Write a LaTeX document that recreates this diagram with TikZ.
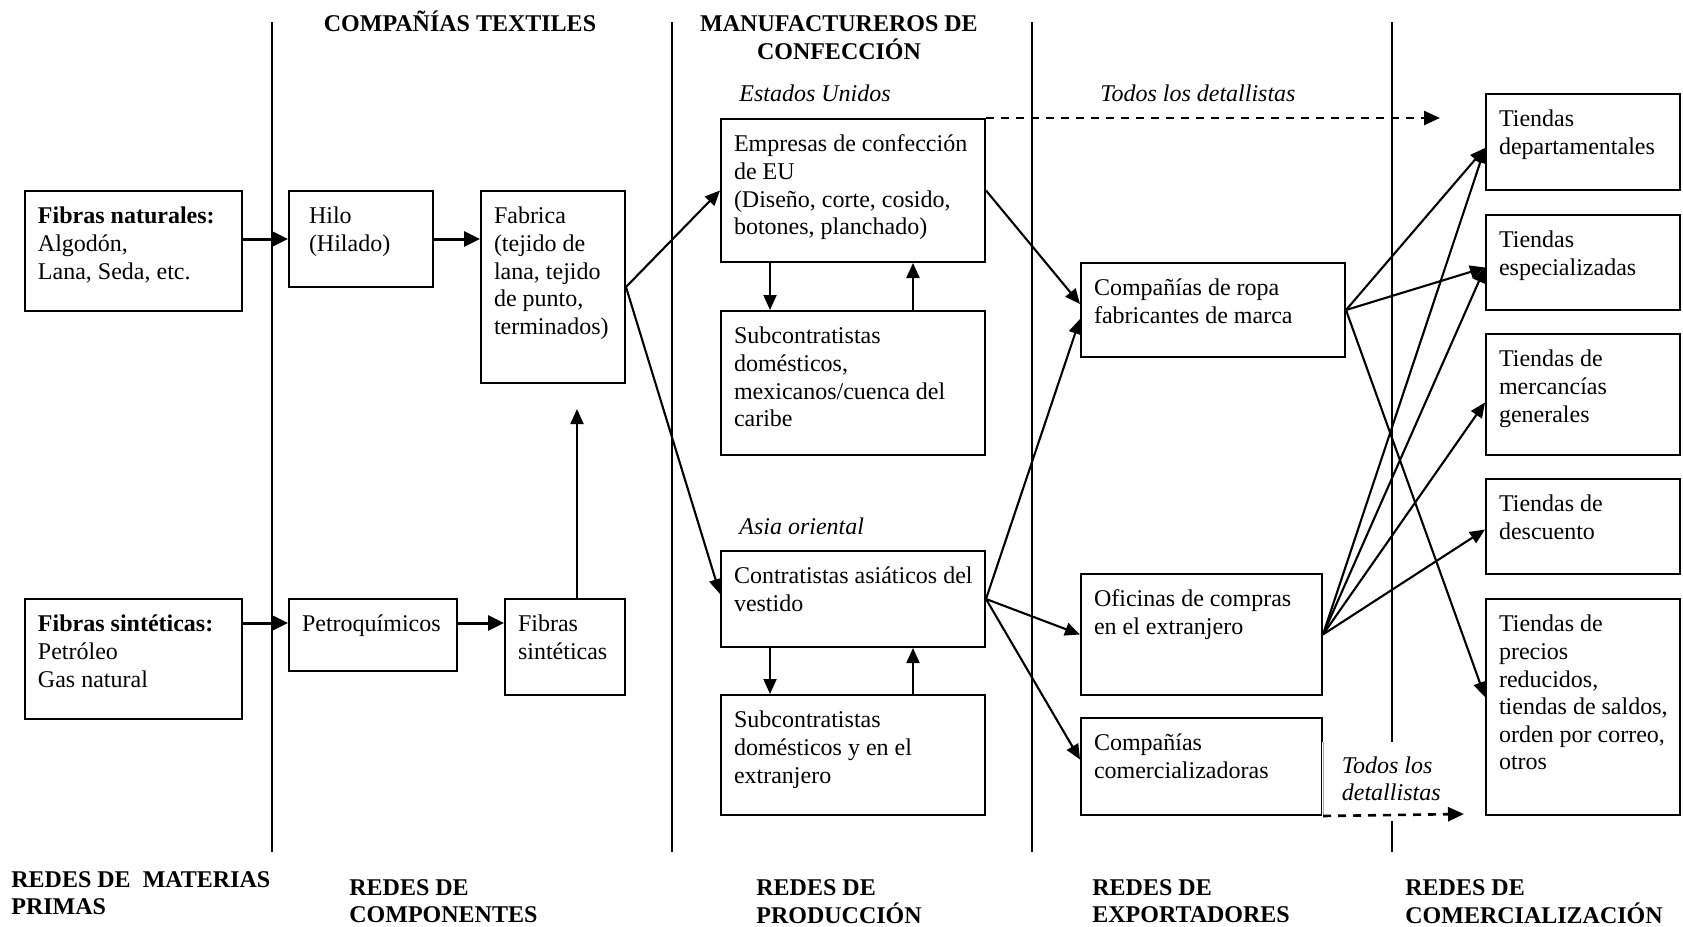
\documentclass[tikz,border=0pt]{standalone}
\usepackage{fontspec}
\setmainfont{Liberation Serif}
\usetikzlibrary{arrows.meta}
\newcommand\bx[6][]{\node[box,#1] (#2) at (#3) {\parbox[c][\dimexpr #5pt/2-13.6pt\relax][t]{\dimexpr #4pt/2-13pt\relax}{\begin{tabular}[t]{@{}l@{}}#6\end{tabular}}};}
\begin{document}
\begin{tikzpicture}[x=0.5pt,y=-0.5pt,
  every node/.style={font=\fontsize{12pt}{13.8pt}\selectfont, inner sep=0pt},
  box/.style={draw, line width=1pt, anchor=north west, inner xsep=6.5pt, inner ysep=6.8pt},
  txt/.style={anchor=base west},
  arr/.style={line width=1.05pt, -{Triangle[length=7.5pt,width=6.5pt]}},
  thk/.style={line width=1.5pt, -{Triangle[length=8pt,width=7.5pt]}},
  dsh/.style={line width=1.3pt, dash pattern=on 4pt off 3.5pt, -{Triangle[length=8pt,width=7pt]}},
  divider/.style={line width=0.9pt}]
\useasboundingbox (0,0) rectangle (1683,927);

% dividers
\foreach \x in {272,672,1032,1392} \draw[divider] (\x,22) -- (\x,852);

% headers
\node[anchor=base] (h1) at (460,31) {\bfseries COMPAÑÍAS TEXTILES};
\node[anchor=base] (h2) at (839,31) {\begin{tabular}[t]{@{}c@{}}\bfseries MANUFACTUREROS DE\\\bfseries CONFECCIÓN\end{tabular}};

% bottom labels
\node[txt] (b1) at (11,887) {\begin{tabular}[t]{@{}l@{}}\bfseries REDES DE\ \ MATERIAS\\\bfseries PRIMAS\end{tabular}};
\node[txt] (b2) at (349,895) {\begin{tabular}[t]{@{}l@{}}\bfseries REDES DE\\\bfseries COMPONENTES\end{tabular}};
\node[txt] (b3) at (756,895) {\begin{tabular}[t]{@{}l@{}}\bfseries REDES DE\\\bfseries PRODUCCIÓN\end{tabular}};
\node[txt] (b4) at (1092,895) {\begin{tabular}[t]{@{}l@{}}\bfseries REDES DE\\\bfseries EXPORTADORES\end{tabular}};
\node[txt] (b5) at (1405,895) {\begin{tabular}[t]{@{}l@{}}\bfseries REDES DE\\\bfseries COMERCIALIZACIÓN\end{tabular}};

% italic labels
\node[txt] (lus) at (739,101) {\itshape Estados Unidos};
\node[txt] (ltd) at (1100,101) {\itshape Todos los detallistas};
\node[txt] (las) at (739,534) {\itshape Asia oriental};

% boxes
\bx{fn}{24,190}{217}{120}{\textbf{Fibras naturales:}\\Algodón,\\Lana, Seda, etc.}
\bx{hilo}{288,190}{144}{96}{\hspace*{3.5pt}Hilo\\\hspace*{3.5pt}(Hilado)}
\bx{fab}{480,190}{144}{192}{Fabrica\\(tejido de\\lana, tejido\\de punto,\\terminados)}
\bx{fs}{24,598}{217}{120}{\textbf{Fibras sintéticas:}\\Petróleo\\Gas natural}
\bx{petro}{288,598}{168}{72}{Petroquímicos}
\bx{fsin}{504,598}{120}{96}{Fibras\\sintéticas}
\bx{emp}{720,118}{264}{143}{Empresas de confección\\de EU\\(Diseño, corte, cosido,\\botones, planchado)}
\bx{subA}{720,310}{264}{144}{Subcontratistas\\domésticos,\\mexicanos/cuenca del\\caribe}
\bx{cont}{720,550}{264}{96}{Contratistas asiáticos del\\vestido}
\bx{subB}{720,694}{264}{120}{Subcontratistas\\domésticos y en el\\extranjero}
\bx{ropa}{1080,262}{264}{94}{Compañías de ropa\\fabricantes de marca}
\bx{ofi}{1080,573}{241}{121}{Oficinas de compras\\en el extranjero}
\bx{com}{1080,717}{241}{97}{Compañías\\comercializadoras}
\bx{dep}{1485,93}{194}{96}{Tiendas\\departamentales}
\bx{esp}{1485,214}{194}{95}{Tiendas\\especializadas}
\bx{mer}{1485,333}{194}{121}{Tiendas de\\mercancías\\generales}
\bx{des}{1485,478}{194}{95}{Tiendas de\\descuento}
\bx{pre}{1485,598}{194}{216}{Tiendas de\\precios\\reducidos,\\tiendas de saldos,\\orden por correo,\\otros}

% bottom "Todos los detallistas" label with white background
\node[fill=white, anchor=north west, inner xsep=10pt, inner ysep=5.8pt] (ltdb) at (1321.5,742) {\begin{tabular}[t]{@{}l@{}}\itshape Todos los\\\itshape detallistas\end{tabular}};
\draw[line width=0.4pt, black!35] (com.east |- ltdb.north) -- (com.south east);

% connectors: raw materials / components
\draw[thk] (hilo.west -| fn.east) -- (hilo.west);
\draw[thk] (hilo.east) -- (hilo.east -| fab.west);
\coordinate (pA) at ([yshift=6pt]petro.west);
\coordinate (pB) at ([yshift=6pt]petro.east);
\draw[thk] (pA -| fs.east) -- (pA);
\draw[thk] (pB) -- (pB -| fsin.west);
\coordinate (fup) at ([xshift=12pt,yshift=-12.5pt]fab.south);
\draw[arr] (fup |- fsin.north) -- (fup);

% production
\draw[arr] (fab.east) -- (emp.west);
\draw[arr] (fab.east) -- ([yshift=2.5pt]cont.west);
\draw[arr] ([xshift=-41.5pt]emp.south) -- ([xshift=-41.5pt]subA.north);
\draw[arr] ([xshift=30pt]subA.north) -- ([xshift=30pt]emp.south);
\draw[arr] ([xshift=-41.5pt]cont.south) -- ([xshift=-41.5pt]subB.north);
\draw[arr] ([xshift=30pt]subB.north) -- ([xshift=30pt]cont.south);

% exporters
\draw[arr] (emp.east) -- ([yshift=3pt]ropa.west);
\draw[arr] (cont.east) -- ([yshift=-4.5pt]ropa.west);
\draw[arr] (cont.east) -- (ofi.west);
\draw[arr] (cont.east) -- ([yshift=3.5pt]com.west);

% retail
\draw[arr] (ropa.east) -- ([yshift=-3pt]dep.west);
\draw[arr] (ropa.east) -- ([yshift=-2.5pt]esp.west);
\draw[arr] (ropa.east) -- ([yshift=5pt]pre.west);
\draw[arr] (ofi.east) -- ([yshift=-3pt]dep.west);
\draw[arr] (ofi.east) -- ([yshift=-2.5pt]esp.west);
\draw[arr] (ofi.east) -- ([yshift=-4pt]mer.west);
\draw[arr] (ofi.east) -- ([yshift=-1.5pt]des.west);

% dashed
\coordinate (d1) at (1440,118);
\draw[dsh] (emp.north east) -- (d1);
\coordinate (d2) at (1464,814);
\draw[dsh] (com.south east) -- (d2);
\end{tikzpicture}
\end{document}
